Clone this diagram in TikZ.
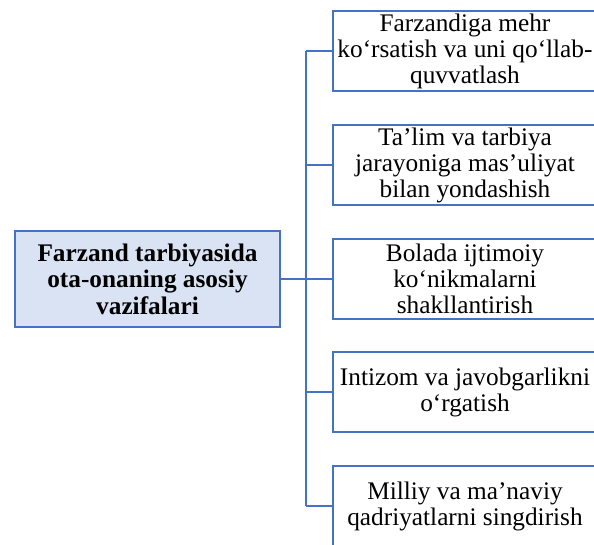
\documentclass[tikz,border=0pt]{standalone}
\usepackage{fontspec}
\setmainfont{Liberation Serif}
\definecolor{boxblue}{HTML}{4472C4}
\definecolor{boxfill}{HTML}{DAE3F3}
\tikzset{
  x=1pt, y=1pt,
  mainbox/.style={draw=boxblue, line width=2.5pt, fill=boxfill, minimum width=265pt, minimum height=96pt,
    inner sep=0pt, align=center, font=\fontsize{25.3}{26.5}\selectfont\bfseries},
  subbox/.style={draw=boxblue, line width=2pt, fill=white, minimum width=264pt, minimum height=80pt,
    inner sep=0pt, align=center, anchor=west, font=\fontsize{25.3}{26}\selectfont},
  link/.style={draw=boxblue, line width=2pt}
}
\begin{document}
\begin{tikzpicture}
\useasboundingbox (0,0) rectangle (594,-544);
\node[mainbox] (main) at (147.5,-279) {Farzand tarbiyasida\\ota-onaning asosiy\\vazifalari};
\coordinate (bus) at (306,-279);
\node[subbox] (b1) at (332,-51) {Farzandiga mehr\\ko‘rsatish va uni qo‘llab-\\quvvatlash};
\node[subbox] (b2) at (332,-165) {Ta’lim va tarbiya\\jarayoniga mas’uliyat\\bilan yondashish};
\node[subbox] (b3) at (332,-278.5) {Bolada ijtimoiy\\ko‘nikmalarni\\shakllantirish};
\node[subbox] (b4) at (332,-392) {Intizom va javobgarlikni\\o‘rgatish};
\node[subbox] (b5) at (332,-506) {Milliy va ma’naviy\\qadriyatlarni singdirish};
\draw[link] (main.east) -- (bus);
\draw[link] (bus |- b1.west) -- (bus |- b5.west);
\foreach \b in {b1,b2,b3,b4,b5} {
  \draw[link] (bus |- \b.west) -- (\b.west);
}
\end{tikzpicture}
\end{document}
